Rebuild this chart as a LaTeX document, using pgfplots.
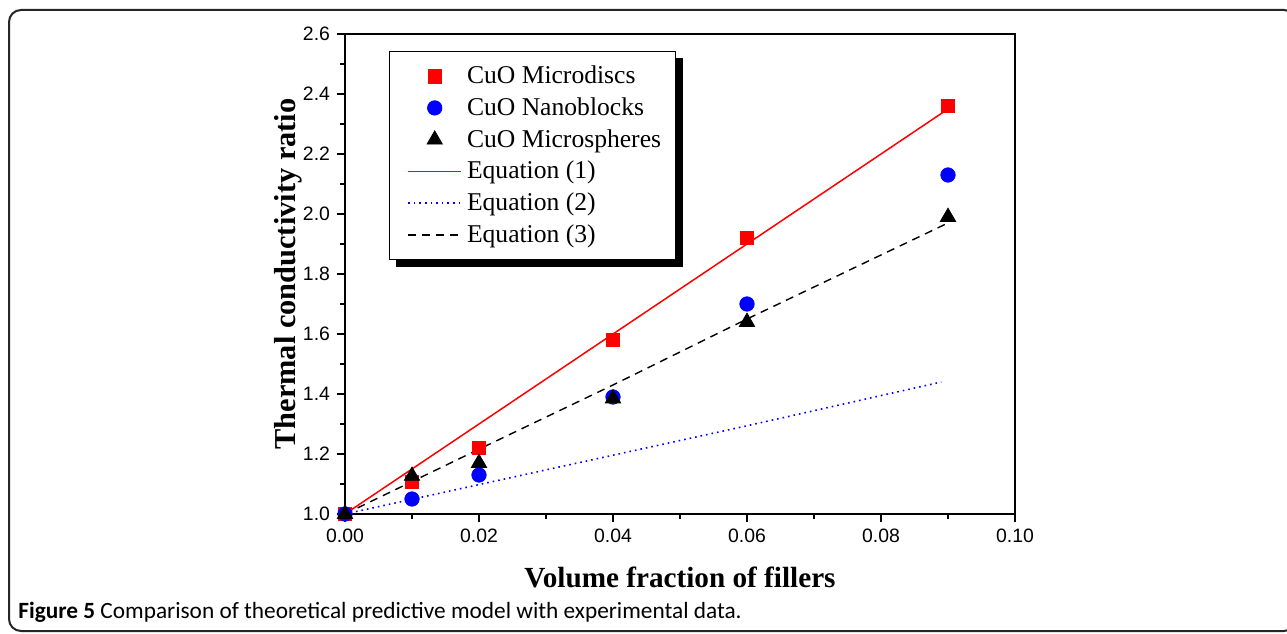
\documentclass[border=0pt]{standalone}
\usepackage{pgfplots}
\pgfplotsset{compat=1.18}
\usepackage{fontspec}
\setmainfont{Liberation Serif}
\newfontfamily\arialf{Liberation Sans}
\newfontfamily\capf{Carlito}
\pgfdeclarelayer{background}
\pgfsetlayers{background,main}
\begin{document}
\begin{tikzpicture}
\useasboundingbox (0,0) rectangle (643.5pt,316.5pt);
\draw[line width=1pt, black!85, rounded corners=6pt] (4.5pt,1pt) rectangle (648pt,311.5pt);
\node[anchor=base west, inner sep=0pt] at (9pt,7.5pt) {\capf\fontsize{11.65}{13}\selectfont\textbf{Figure 5} Comparison of theoretical predictive model with experimental data.};
\begin{axis}[
  at={(172.5pt,59.5pt)}, anchor=south west,
  scale only axis, width=335pt, height=240pt,
  xmin=0, xmax=0.10, ymin=1.0, ymax=2.6,
  xtick={0,0.02,0.04,0.06,0.08,0.10},
  ytick={1.0,1.2,1.4,1.6,1.8,2.0,2.2,2.4,2.6},
  minor x tick num=1, minor y tick num=1,
  tick align=outside, xtick pos=bottom, ytick pos=left,
  major tick length=4pt, minor tick length=2.5pt,
  axis line style={line width=1.4pt},
  every tick/.style={line width=1.1pt, black},
  /pgf/number format/assume math mode=true,
  x tick label style={/pgf/number format/.cd, fixed, fixed zerofill, precision=2},
  y tick label style={/pgf/number format/.cd, fixed, fixed zerofill, precision=1},
  tick label style={font=\arialf\fontsize{9.7}{11}\selectfont},
  xlabel={Volume fraction of fillers},
  ylabel={Thermal conductivity ratio},
  every axis x label/.style={at={(axis description cs:0.5,-0.133)}, anchor=center, font=\bfseries\fontsize{14.6}{16}\selectfont},
  every axis y label/.style={at={(axis description cs:-0.084,0.5)}, rotate=90, anchor=center, font=\bfseries\fontsize{15.2}{17}\selectfont},
  legend image code/.code={\path (0pt,0pt); \draw[mark repeat=2,mark phase=2,#1] plot coordinates {(4pt,0pt) (17.25pt,0pt) (30.5pt,0pt)};},
  legend style={name=L, at={(axis description cs:0.0657,0.9646)}, anchor=north west,
    draw=black, fill=white,
    font=\fontsize{12.8}{14}\selectfont, cells={anchor=west},
    inner xsep=5pt, inner ysep=5.2pt, row sep=1.5pt, column sep=0.5pt},
]
\addplot[only marks, mark=square*, mark size=3.4pt, red, mark options={fill=red, draw=red}] coordinates {
(0,1.0) (0.01,1.107) (0.02,1.22) (0.04,1.58) (0.06,1.92) (0.09,2.36)};
\addlegendentry{CuO Microdiscs}
\addplot[only marks, mark=*, mark size=3.6pt, blue, mark options={fill=blue, draw=blue}] coordinates {
(0,1.0) (0.01,1.05) (0.02,1.13) (0.04,1.39) (0.06,1.70) (0.09,2.13)};
\addlegendentry{CuO Nanoblocks}
\addplot[only marks, mark=triangle*, mark size=4.4pt, black, mark options={fill=black}] coordinates {
(0,1.0) (0.01,1.127) (0.02,1.17) (0.04,1.385) (0.06,1.64) (0.09,1.99)};
\addlegendentry{CuO Microspheres}
\addplot[color=red, line width=0.75pt,
  legend image code/.code={\path (0pt,0pt); \draw[red, line width=0.75pt] (4pt,0pt) -- (30.5pt,0pt);}] coordinates {
(0,1.0) (0.01,1.15) (0.02,1.30) (0.04,1.60) (0.06,1.90) (0.09,2.35)};
\addlegendentry{Equation (1)}
\addplot[color=blue, line width=0.8pt, dotted] coordinates {
(0,1.0) (0.01,1.049) (0.02,1.098) (0.04,1.196) (0.06,1.294) (0.089,1.44)};
\addlegendentry{Equation (2)}
\addplot[color=black, line width=0.7pt, dash pattern=on 4pt off 3pt] coordinates {
(0,1.0) (0.01,1.108) (0.02,1.216) (0.04,1.43) (0.06,1.65) (0.09,1.97)};
\addlegendentry{Equation (3)}
\end{axis}
\begin{pgfonlayer}{background}
\fill[black] ([shift={(3.5pt,-3.5pt)}]L.south west) rectangle ([shift={(3.5pt,-3.5pt)}]L.north east);
\end{pgfonlayer}
\end{tikzpicture}
\end{document}
